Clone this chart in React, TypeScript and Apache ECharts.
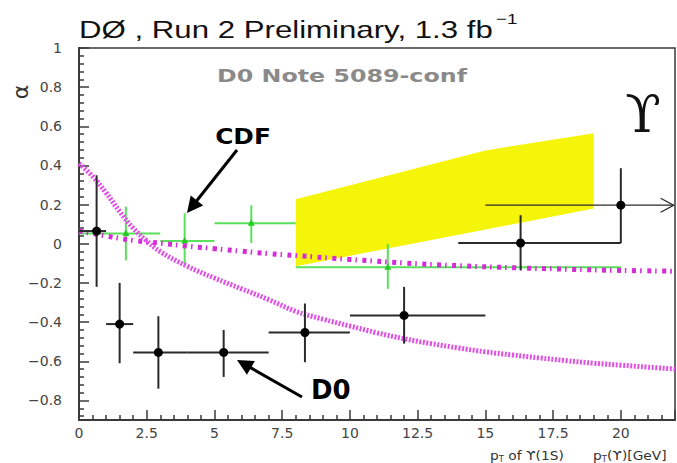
import React, { useEffect, useRef } from "react";
import * as echarts from "echarts";

// D0 measurements: x, y, x-range low/high, y error low/high
const d0X = [0.65, 1.5, 2.93, 5.34, 8.34, 12.0, 16.3, 20.0];
const d0Y = [0.065, -0.41, -0.555, -0.555, -0.453, -0.366, 0.004, 0.197];
const d0XLow = [0, 1.0, 2.0, 4.0, 7.0, 10.0, 14.0, 15.0];
const d0XHigh = [1.0, 2.0, 4.0, 7.0, 10.0, 15.0, 20.0, 21.95];
const d0YLow = [-0.22, -0.61, -0.74, -0.68, -0.605, -0.51, -0.135, 0.004];
const d0YHigh = [0.35, -0.2, -0.37, -0.44, -0.305, -0.22, 0.146, 0.386];
const d0Arrow = [0, 0, 0, 0, 0, 0, 0, 1];

// CDF measurements
const cdfX = [1.73, 3.9, 6.36, 11.4];
const cdfY = [0.053, 0.014, 0.105, -0.12];
const cdfXLow = [0, 3, 5, 8];
const cdfXHigh = [3, 5, 8, 20];
const cdfYLow = [-0.085, -0.11, 0.004, -0.23];
const cdfYHigh = [0.19, 0.156, 0.197, 0.0];

// Yellow theory band
const bandTopX = [8, 15, 19];
const bandTopY = [0.227, 0.477, 0.565];
const bandBottomX = [8, 19];
const bandBottomY = [-0.115, 0.18];

// Magenta curves
const curveAX = [0, 0.5, 1, 1.5, 2, 2.5, 3, 4, 5, 6, 7, 8, 9, 10, 11, 12, 13, 14, 15, 16, 17, 18, 19, 20, 21, 22];
const curveAY = [0.41, 0.345, 0.26, 0.165, 0.08, 0.015, -0.04, -0.115, -0.175, -0.23, -0.285, -0.345, -0.385, -0.42, -0.455, -0.485, -0.51, -0.532, -0.552, -0.568, -0.583, -0.597, -0.61, -0.62, -0.63, -0.64];
const curveBX = [0, 1, 2, 3, 4, 5, 6, 7, 8, 10, 12, 14, 16, 18, 20, 22];
const curveBY = [0.065, 0.04, 0.017, 0.003, -0.012, -0.025, -0.038, -0.05, -0.06, -0.08, -0.098, -0.112, -0.122, -0.13, -0.136, -0.14];

// Axis ticks
const yMajorTicks = [-0.8, -0.6, -0.4, -0.2, 0, 0.2, 0.4, 0.6, 0.8, 1];
const yMinorTicks: number[] = [];
for (let k = -22; k <= 25; k++) {
  if (k % 5 !== 0) yMinorTicks.push(Math.round(k * 4) / 100);
}

const AXIS_COLOR = "#3a3a3a";
const BLACK_BAR = "#2a2a2a";
const GREEN = "#5ae05a";

function arrow(tail: number[], tip: number[], headLen: number, headW: number, lw: number) {
  const dx = tip[0] - tail[0];
  const dy = tip[1] - tail[1];
  const len = Math.sqrt(dx * dx + dy * dy);
  const ux = dx / len;
  const uy = dy / len;
  const bx = tip[0] - ux * headLen;
  const by = tip[1] - uy * headLen;
  const px = -uy * headW;
  const py = ux * headW;
  return [
    {
      type: "line",
      shape: { x1: tail[0], y1: tail[1], x2: bx + ux * 2, y2: by + uy * 2 },
      style: { stroke: "#000", lineWidth: lw },
      z: 100,
    },
    {
      type: "polygon",
      shape: { points: [tip, [bx + px, by + py], [bx - px, by - py]] },
      style: { fill: "#000" },
      z: 100,
    },
  ];
}

function makeErrRender(color: string, lw: number, marker: "circle" | "triangle") {
  return (params: any, api: any) => {
    const x = api.value(0);
    const y = api.value(1);
    const p = api.coord([x, y]);
    const l = api.coord([api.value(2), y]);
    const r = api.coord([api.value(3), y]);
    const lo = api.coord([x, api.value(4)]);
    const hi = api.coord([x, api.value(5)]);
    const hasArrow = api.value(6) === 1;
    const children: any[] = [
      {
        type: "line",
        shape: { x1: l[0], y1: l[1], x2: r[0], y2: r[1] },
        style: { stroke: color, lineWidth: hasArrow ? 1.3 : lw },
      },
      {
        type: "line",
        shape: { x1: lo[0], y1: lo[1], x2: hi[0], y2: hi[1] },
        style: { stroke: color, lineWidth: lw },
      },
    ];
    if (hasArrow) {
      children.push({
        type: "polyline",
        shape: { points: [[r[0] - 13, r[1] - 7], [r[0], r[1]], [r[0] - 13, r[1] + 7]] },
        style: { stroke: color, lineWidth: 1.3, fill: "none" },
      });
    }
    if (marker === "circle") {
      children.push({
        type: "circle",
        shape: { cx: p[0], cy: p[1], r: 4.5 },
        style: { fill: "#000" },
      });
    } else {
      children.push({
        type: "polygon",
        shape: { points: [[p[0], p[1] - 4], [p[0] - 3.5, p[1] + 2.5], [p[0] + 3.5, p[1] + 2.5]] },
        style: { fill: "#22cc22" },
      });
    }
    return { type: "group", children };
  };
}

export default function App() {
  const ref = useRef<HTMLDivElement>(null);

  useEffect(() => {
    if (!ref.current) return;
    const chart = echarts.init(ref.current, undefined, { renderer: "svg" });

    const d0Data = d0X.map((x, i) => [x, d0Y[i], d0XLow[i], d0XHigh[i], d0YLow[i], d0YHigh[i], d0Arrow[i]]);
    const cdfData = cdfX.map((x, i) => [x, cdfY[i], cdfXLow[i], cdfXHigh[i], cdfYLow[i], cdfYHigh[i], 0]);

    const yFmt = (v: number) => {
      const a = Math.round(Math.abs(v) * 10) / 10;
      return (v < -1e-9 ? "\u2212" : "") + String(a);
    };

    const option: any = {
      animation: false,
      backgroundColor: "#ffffff",
      grid: {
        left: 79,
        right: 2,
        top: 48,
        bottom: 43,
        show: true,
        borderColor: AXIS_COLOR,
        borderWidth: 1.5,
        backgroundColor: "transparent",
      },
      xAxis: {
        type: "value",
        min: 0,
        max: 22,
        interval: 2.5,
        axisLine: { show: true, onZero: false, lineStyle: { color: AXIS_COLOR, width: 2 } },
        axisTick: { show: true, inside: true, length: 10, lineStyle: { color: AXIS_COLOR, width: 1.5 } },
        minorTick: { show: true, splitNumber: 5, length: 5, lineStyle: { color: AXIS_COLOR, width: 1.5 } },
        splitLine: { show: false },
        axisLabel: {
          showMaxLabel: false,
          color: "#444",
          fontSize: 14,
          fontFamily: "DejaVu Sans",
          margin: 6,
        },
      },
      yAxis: [
        {
          type: "value",
          min: -0.9,
          max: 1,
          position: "left",
          axisLine: { show: true, onZero: false, lineStyle: { color: AXIS_COLOR, width: 2 } },
          axisTick: {
            show: true,
            inside: true,
            length: 10,
            customValues: yMajorTicks,
            lineStyle: { color: AXIS_COLOR, width: 1.5 },
          },
          axisLabel: {
            customValues: yMajorTicks,
            formatter: yFmt,
            color: "#444",
            fontSize: 14,
            fontFamily: "DejaVu Sans",
            margin: 17,
          },
          splitLine: { show: false },
        },
        {
          type: "value",
          min: -0.9,
          max: 1,
          position: "left",
          axisLine: { show: false },
          axisTick: {
            show: true,
            inside: true,
            length: 5,
            customValues: yMinorTicks,
            lineStyle: { color: AXIS_COLOR, width: 1.5 },
          },
          axisLabel: { show: false },
          splitLine: { show: false },
        },
      ],
      series: [
        {
          type: "custom",
          z: 1,
          data: [[bandTopX[0], bandTopY[0]]],
          encode: { x: 0, y: 1 },
          renderItem: (params: any, api: any) => {
            const pts: number[][] = [];
            bandTopX.forEach((x, i) => pts.push(api.coord([x, bandTopY[i]])));
            for (let i = bandBottomX.length - 1; i >= 0; i--) {
              pts.push(api.coord([bandBottomX[i], bandBottomY[i]]));
            }
            return { type: "polygon", shape: { points: pts }, style: { fill: "#f5f50a" } };
          },
          silent: true,
        },
        {
          type: "custom",
          z: 2,
          data: cdfData,
          encode: { x: 0, y: 1 },
          renderItem: makeErrRender(GREEN, 2, "triangle"),
          silent: true,
        },
        {
          type: "line",
          z: 3,
          data: curveAX.map((x, i) => [x, curveAY[i]]),
          smooth: 0.4,
          showSymbol: false,
          symbol: "none",
          lineStyle: { color: "#e24fe6", width: 5, type: [2, 1.6] },
          silent: true,
        },
        {
          type: "line",
          z: 3,
          data: curveBX.map((x, i) => [x, curveBY[i]]),
          smooth: 0.4,
          showSymbol: false,
          symbol: "none",
          lineStyle: { color: "#d52cd8", width: 5, type: [4, 4, 1.5, 5.5] },
          silent: true,
        },
        {
          type: "custom",
          z: 4,
          data: d0Data,
          encode: { x: 0, y: 1 },
          renderItem: makeErrRender(BLACK_BAR, 2, "circle"),
          silent: true,
        },
      ],
      graphic: [
        {
          type: "text",
          x: 79,
          y: 30,
          scaleX: 1.3,
          style: {
            text: "D\u00d8 , Run 2 Preliminary, 1.3 fb",
            font: "24px 'Liberation Sans', Arial, sans-serif",
            fill: "#111",
            align: "left",
            verticalAlign: "middle",
          },
        },
        {
          type: "text",
          x: 496,
          y: 19,
          scaleX: 1.25,
          style: {
            text: "\u22121",
            font: "15px 'Liberation Sans', Arial, sans-serif",
            fill: "#111",
            align: "left",
            verticalAlign: "middle",
          },
        },
        {
          type: "text",
          x: 342,
          y: 76,
          scaleX: 1.32,
          style: {
            text: "D0 Note 5089-conf",
            font: "bold 18px 'DejaVu Sans', sans-serif",
            fill: "#8a8a8a",
            align: "center",
            verticalAlign: "middle",
          },
        },
        {
          type: "text",
          x: 643,
          y: 114,
          style: {
            text: "\u03d2",
            font: "52px 'DejaVu Serif', serif",
            fill: "#111",
            align: "center",
            verticalAlign: "middle",
          },
        },
        {
          type: "text",
          x: 243,
          y: 137,
          scaleX: 1.18,
          style: {
            text: "CDF",
            font: "bold 21px 'DejaVu Sans', sans-serif",
            fill: "#000",
            align: "center",
            verticalAlign: "middle",
          },
        },
        {
          type: "text",
          x: 311,
          y: 390,
          style: {
            text: "D0",
            font: "bold 26px 'DejaVu Sans', sans-serif",
            fill: "#000",
            align: "left",
            verticalAlign: "middle",
          },
        },
        ...arrow([237, 150], [187, 213], 16, 8, 3),
        ...arrow([302, 397], [237, 360], 16, 8, 3),
        {
          type: "text",
          x: 20,
          y: 92,
          rotation: Math.PI / 2,
          style: {
            text: "\u03b1",
            font: "22px 'DejaVu Sans', sans-serif",
            fill: "#333",
            align: "center",
            verticalAlign: "middle",
          },
        },
        {
          type: "text",
          x: 490,
          y: 449,
          scaleX: 1.06,
          style: {
            text: "{a|p}{b|T}{a| of \u03d2(1S)}",
            rich: {
              a: { fontSize: 13, fontFamily: "DejaVu Sans", fill: "#333" },
              b: { fontSize: 8, fontFamily: "DejaVu Sans", fill: "#333", padding: [6, 0, 0, 0] },
            },
          },
        },
        {
          type: "text",
          x: 593,
          y: 449,
          scaleX: 1.06,
          style: {
            text: "{a|p}{b|T}{a|(\u03d2)[GeV]}",
            rich: {
              a: { fontSize: 13, fontFamily: "DejaVu Sans", fill: "#333" },
              b: { fontSize: 8, fontFamily: "DejaVu Sans", fill: "#333", padding: [6, 0, 0, 0] },
            },
          },
        },
      ],
    };

    chart.setOption(option);
    return () => {
      chart.dispose();
    };
  }, []);

  return (
    <div
      ref={ref}
      style={{ position: "absolute", left: 0, top: 0, width: 677, height: 463, background: "#fff" }}
    />
  );
}
